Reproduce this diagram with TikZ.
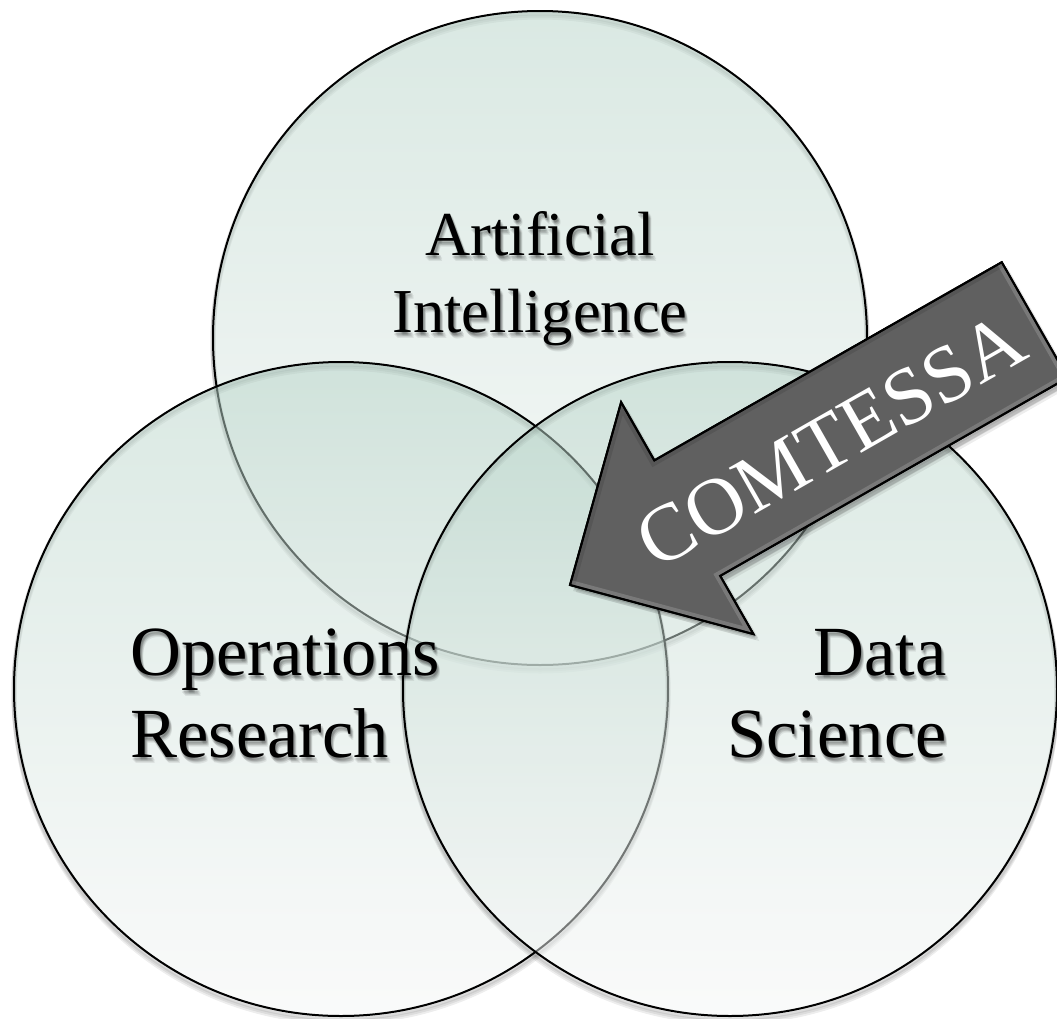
\documentclass[tikz,border=0pt]{standalone}
\usepackage{fontspec}
\setmainfont{Liberation Serif}
\definecolor{ctop}{RGB}{182,212,200}
\definecolor{cbot}{RGB}{246,247,247}
\definecolor{arrowgray}{RGB}{96,96,96}
\tikzset{
  circshade/.style={top color=ctop, bottom color=cbot, fill opacity=0.5},
  circline/.style={draw=black, line width=1pt},
  circshadow/.style={draw=black, line width=2.5pt, opacity=0.07},
  labelA/.style={font=\fontsize{31.25}{37}\selectfont, inner sep=0pt},
  labelB/.style={font=\fontsize{35.25}{41}\selectfont, inner sep=0pt},
  txtshadow/.style={text=black, opacity=0.07},
  arrowbody/.style={fill=arrowgray, draw=black, line width=1pt, line join=miter},
  arrowshadow/.style={fill=black, opacity=0.07},
}
\begin{document}
\begin{tikzpicture}[x=0.5pt,y=-0.5pt]
\useasboundingbox (0,0) rectangle (1057,1019);
\fill[white] (0,0) rectangle (1057,1019);

\coordinate (cAI) at (540,338);
\coordinate (cOR) at (341,689);
\coordinate (cDS) at (730,689);

% Artificial Intelligence circle
\foreach \d in {2,4,6} {\draw[circshadow] ([yshift=-\d*0.5pt]cAI) circle[radius=327];}
\shade[circshade] (cAI) circle[radius=327];
\draw[circline] (cAI) circle[radius=327];
% Operations Research circle
\foreach \d in {2,4,6} {\draw[circshadow] ([yshift=-\d*0.5pt]cOR) circle[radius=327];}
\shade[circshade] (cOR) circle[radius=327];
\draw[circline] (cOR) circle[radius=327];
% Data Science circle
\foreach \d in {2,4,6} {\draw[circshadow] ([yshift=-\d*0.5pt]cDS) circle[radius=327];}
\shade[circshade] (cDS) circle[radius=327];
\draw[circline] (cDS) circle[radius=327];

% soft text shadows
\foreach \dx/\dy in {1/2,2/3,3/4,1/4,2/5,3/6,0/3,2/2} {
  \node[labelA, txtshadow, anchor=base] at (540+\dx,255+\dy) {Artificial};
  \node[labelA, txtshadow, anchor=base] at (540+\dx,332+\dy) {Intelligence};
  \node[labelB, txtshadow, anchor=base west] at (130+\dx,675+\dy) {Operations};
  \node[labelB, txtshadow, anchor=base west] at (130+\dx,757+\dy) {Research};
  \node[labelB, txtshadow, anchor=base east] at (947+\dx,675+\dy) {Data};
  \node[labelB, txtshadow, anchor=base east] at (947+\dx,757+\dy) {Science};
}

% labels
\node[labelA, anchor=base] (ai1) at (540,255) {Artificial};
\node[labelA, anchor=base] (ai2) at (540,332) {Intelligence};
\node[labelB, anchor=base west] (or1) at (130,675) {Operations};
\node[labelB, anchor=base west] (or2) at (130,757) {Research};
\node[labelB, anchor=base east] (ds1) at (947,675) {Data};
\node[labelB, anchor=base east] (ds2) at (947,757) {Science};

% arrow soft shadow
\foreach \dx/\dy in {2/3,4/5,6/7,3/6,5/4} {
\begin{scope}[shift={(570+\dx,585+\dy)}, rotate=29.7]
  \fill[arrowshadow] (0,0) -- (135,-133.5) -- (135,-66.5) -- (535,-66.5) -- (535,66.5) -- (135,66.5) -- (135,133.5) -- cycle;
\end{scope}
}
% arrow
\begin{scope}[shift={(570,585)}, rotate=29.7]
  \draw[arrowbody] (0,0) -- (135,-133.5) -- (135,-66.5) -- (535,-66.5) -- (535,66.5) -- (135,66.5) -- (135,133.5) -- cycle;
  \begin{scope}
    \clip (0,0) -- (135,-133.5) -- (135,-66.5) -- (535,-66.5) -- (535,66.5) -- (135,66.5) -- (135,133.5) -- cycle;
    \draw[white, opacity=0.16, line width=5pt] (535,-66.5) -- (535,66.5) -- (135,66.5) -- (135,133.5) -- (0,0);
    \draw[black, opacity=0.10, line width=5pt] (0,0) -- (135,-133.5) -- (135,-66.5) -- (535,-66.5);
  \end{scope}
  \draw[black, line width=1pt, line join=miter] (0,0) -- (135,-133.5) -- (135,-66.5) -- (535,-66.5) -- (535,66.5) -- (135,66.5) -- (135,133.5) -- cycle;
  \node[rotate=29.7, text=white, font=\fontsize{40.5}{40}\selectfont, inner sep=0pt] (cm) at (298,4) {COMTESSA};
\end{scope}
\end{tikzpicture}
\end{document}
